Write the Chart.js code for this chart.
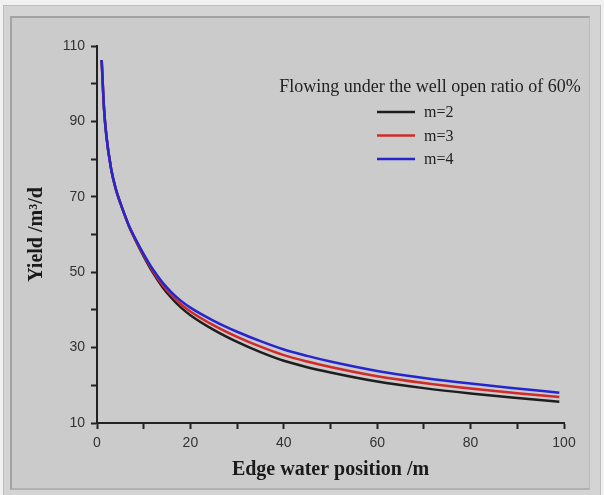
<!DOCTYPE html>
<html>
<head>
<meta charset="utf-8">
<script src="https://cdn.jsdelivr.net/npm/chart.js@4"></script>
<style>
	html, body { margin: 0; padding: 0; }
	body { width: 604px; height: 495px; background: #f1f1f1; position: relative; overflow: hidden; }
	#outer { position: absolute; left: 3px; top: 5px; width: 596px; height: 489px; background: #d4d4d4; border: 1px solid #bdbdbd; }
	#inner { position: absolute; left: 10px; top: 16px; width: 577px; height: 470px; background: #cbcbcb;
		border-top: 2px solid #a3a3a3; border-left: 2px solid #a3a3a3; border-right: 1px solid #bbbbbb; border-bottom: 2px solid #b0b0b0; }
	#wrap { position: absolute; left: 0; top: 0; width: 604px; height: 495px; }
</style>
</head>
<body>
<div id="outer"></div>
<div id="inner"></div>
<div id="wrap"><canvas id="chart" width="604" height="495"></canvas></div>
<script>
const legendTitle = "Flowing under the well open ratio of 60%";
const seriesNames = ["m=2", "m=3", "m=4"];

// edge water position /m
const xValues = [1, 1.5, 2, 3, 4, 5, 6, 7, 8, 10, 12, 14, 16, 18, 20, 25, 30, 35, 40, 45, 50, 60, 70, 80, 90, 99];

// yield /m3/d
const m2Values = [106.2, 93.4, 86.2, 77.5, 72.1, 68.3, 64.9, 61.7, 59.1, 54.2, 49.8, 46.1, 43.1, 40.6, 38.6, 34.7, 31.5, 28.8, 26.5, 24.8, 23.4, 21.0, 19.25, 17.85, 16.65, 15.65];
const m3Values = [106.3, 93.5, 86.3, 77.6, 72.2, 68.4, 65.0, 61.8, 59.25, 54.5, 50.25, 46.7, 43.85, 41.5, 39.6, 35.9, 32.85, 30.25, 28.0, 26.3, 24.85, 22.4, 20.6, 19.15, 17.9, 16.9];
const m4Values = [106.3, 93.5, 86.3, 77.6, 72.2, 68.4, 65.0, 61.9, 59.4, 54.8, 50.7, 47.3, 44.6, 42.4, 40.6, 37.1, 34.2, 31.7, 29.5, 27.8, 26.3, 23.8, 21.95, 20.45, 19.15, 18.05];

const xTicks = [0, 20, 40, 60, 80, 100];
const yTicks = [10, 30, 50, 70, 90, 110];

function toPoints(ys) {
	return xValues.map((x, i) => ({ x: x, y: ys[i] }));
}

function series(label, ys, color, order) {
	return {
		label: label,
		data: toPoints(ys),
		borderColor: color,
		borderWidth: 2.5,
		pointRadius: 0,
		cubicInterpolationMode: "monotone",
		fill: false,
		order: order,
	};
}

// legend drawn inside the plot, title above a column of line samples
const insideLegend = {
	id: "insideLegend",
	afterDraw(chart) {
		const ctx = chart.ctx;
		ctx.save();
		ctx.fillStyle = "#222";
		ctx.textBaseline = "middle";
		ctx.font = "18px 'Liberation Serif', 'Times New Roman', serif";
		ctx.textAlign = "center";
		ctx.fillText(legendTitle, 430, 87);

		ctx.textAlign = "left";
		ctx.font = "16px 'Liberation Serif', 'Times New Roman', serif";
		chart.data.datasets.forEach((ds, i) => {
			const y = 112 + i * 23.5;
			ctx.strokeStyle = ds.borderColor;
			ctx.lineWidth = 2.5;
			ctx.beginPath();
			ctx.moveTo(377, y);
			ctx.lineTo(415, y);
			ctx.stroke();
			ctx.fillStyle = "#222";
			ctx.fillText(ds.label, 424, y + 1);
		});
		ctx.restore();
	},
};

const tickFont = { family: "'Liberation Sans', Arial, sans-serif", size: 14 };
const titleFont = { family: "'Liberation Serif', 'Times New Roman', serif", size: 20, weight: "bold" };

new Chart(document.getElementById("chart"), {
	type: "line",
	data: {
		datasets: [
			series(seriesNames[0], m2Values, "#1e1e1e", 3),
			series(seriesNames[1], m3Values, "#d02a2a", 2),
			series(seriesNames[2], m4Values, "#2626d0", 1),
		],
	},
	options: {
		responsive: false,
		animation: false,
		layout: { padding: { left: 15, right: 40, top: 46, bottom: 10 } },
		plugins: {
			legend: { display: false },
			tooltip: { enabled: false },
		},
		scales: {
			x: {
				type: "linear",
				min: 0,
				max: 100,
				afterFit(scale) {
					scale.height = 62;
				},
				border: { color: "#222", width: 2 },
				grid: { drawOnChartArea: false, tickLength: 6, tickColor: "#222", tickWidth: 2 },
				ticks: {
					stepSize: 10,
					autoSkip: false,
					maxRotation: 0,
					padding: 6,
					color: "#333",
					font: tickFont,
					callback: (v) => (xTicks.includes(v) ? v : ""),
				},
				title: {
					display: true,
					text: "Edge water position /m",
					color: "#1a1a1a",
					font: titleFont,
					padding: { top: 0, bottom: 3 },
				},
			},
			y: {
				type: "linear",
				min: 10,
				max: 110,
				afterFit(scale) {
					scale.width = 82;
				},
				border: { color: "#222", width: 2 },
				grid: { drawOnChartArea: false, tickLength: 6, tickColor: "#222", tickWidth: 2 },
				ticks: {
					stepSize: 10,
					autoSkip: false,
					padding: 6,
					color: "#333",
					font: tickFont,
					callback: (v) => (yTicks.includes(v) ? v : ""),
				},
				title: {
					display: true,
					text: "Yield /m³/d",
					color: "#1a1a1a",
					font: titleFont,
					padding: { top: 10, bottom: 0 },
				},
			},
		},
	},
	plugins: [insideLegend],
});
</script>
</body>
</html>
